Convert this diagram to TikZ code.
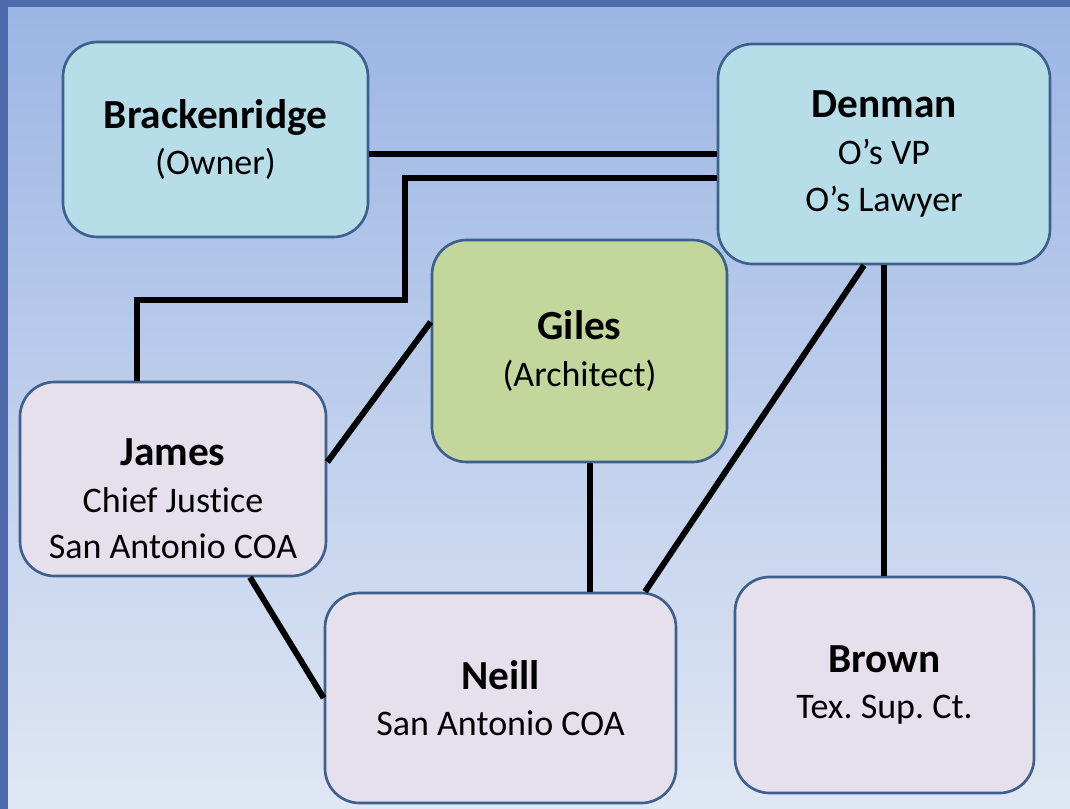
\documentclass[tikz,border=0pt]{standalone}
\usepackage{fontspec}
\setmainfont[Ligatures=NoCommon]{Carlito}
\usetikzlibrary{positioning}
\frenchspacing

\definecolor{bgtop}{RGB}{155,181,228}
\definecolor{bgbot}{RGB}{224,231,244}
\definecolor{framebl}{RGB}{78,108,172}
\definecolor{edgeblue}{RGB}{62,96,140}
\definecolor{lawblue}{RGB}{183,222,232}
\definecolor{archgreen}{RGB}{195,214,155}
\definecolor{judgelav}{RGB}{229,224,236}

\newcommand{\who}[1]{{\fontsize{31}{35}\selectfont\bfseries #1}}

\begin{document}
\begin{tikzpicture}[x=0.75pt,y=-0.75pt,
  pbox/.style={draw=edgeblue,line width=2pt,rounded corners=26pt,
    align=center,inner sep=0pt,font=\fontsize{27}{35}\selectfont},
  link/.style={line width=4.5pt}]
  % background and frame
  \shade[top color=bgtop,bottom color=bgbot] (0,0) rectangle (1070,809);
  \fill[framebl] (0,0) rectangle (8,809);
  \fill[framebl] (0,0) rectangle (1070,7);

  % people
  \node[pbox,fill=lawblue,minimum width=228.75pt,minimum height=146.25pt]
    (brack) at (215.5,139.5) {\who{Brackenridge}\\(Owner)};
  \node[pbox,fill=lawblue,minimum width=249pt,minimum height=165pt]
    (denman) at (884,154) {\who{Denman}\\O’s VP\\O’s Lawyer};
  \node[pbox,fill=archgreen,minimum width=221.25pt,minimum height=166.5pt]
    (giles) at (579.5,351) {\who{Giles}\\(Architect)};
  \node[pbox,fill=judgelav,minimum width=229.5pt,minimum height=145.5pt]
    (james) at (173,479) {};
  \node[align=center,font=\fontsize{27}{35}\selectfont]
    (jamestxt) at (173,499) {\who{James}\\Chief Justice\\San Antonio COA};
  \node[pbox,fill=judgelav,minimum width=263.25pt,minimum height=157.5pt]
    (neill) at (500.5,698) {\who{Neill}\\San Antonio COA};
  \node[pbox,fill=judgelav,minimum width=224.25pt,minimum height=162pt]
    (brown) at (884.5,685) {\who{Brown}\\Tex. Sup. Ct.};

  % links
  \draw[link] (denman.west) -- (denman.west -| brack.east);
  \draw[link] ([yshift=-18pt]denman.west) -| (405,300) -| ([xshift=-27pt]james.north);
  \draw[link] ([yshift=21.75pt]giles.west) -- ([yshift=12.75pt]james.east);
  \draw[link] ([xshift=8pt]giles.south) -- ([xshift=8pt]giles.south |- neill.north);
  \draw[link] ([xshift=-15pt]denman.south) -- ([xshift=108.4pt]neill.north);
  \draw[link] (denman.south) -- (denman.south |- brown.north);
  \draw[link] ([xshift=57.75pt]james.south) -- (neill.west);
\end{tikzpicture}
\end{document}
